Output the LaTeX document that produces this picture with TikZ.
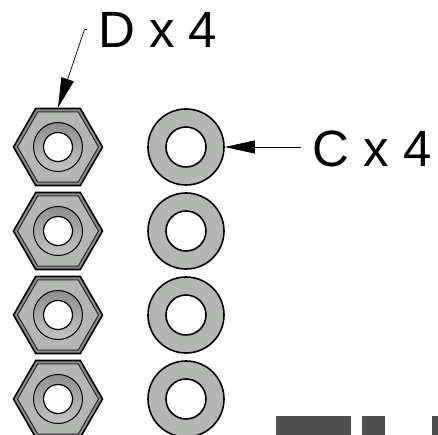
\documentclass[tikz,border=0pt]{standalone}
\usepackage{fontspec}
\setmainfont{Liberation Sans}
\usetikzlibrary{shapes.geometric,arrows.meta}
\tikzset{
  nutouter/.style={regular polygon,regular polygon sides=6,shape border rotate=0,minimum size=89pt,inner sep=0pt,draw=black,line width=1.6pt,fill=bevel},
  nutinner/.style={regular polygon,regular polygon sides=6,shape border rotate=0,minimum size=81pt,inner sep=0pt,draw=black!85,line width=1pt,fill=metal},
  nutring/.style={circle,minimum size=49pt,inner sep=0pt,draw=black,line width=1pt,top color=ringdark,bottom color=ringlight},
  nuthole/.style={circle,minimum size=29pt,inner sep=0pt,draw=black,line width=1.2pt,fill=white},
  washer/.style={circle,minimum size=76pt,inner sep=0pt,draw=black,line width=1.6pt,fill=metal},
  washerhole/.style={circle,minimum size=40pt,inner sep=0pt,draw=black,line width=1.6pt,fill=white},
  label/.style={inner sep=0pt,font=\fontsize{51pt}{51pt}\selectfont,anchor=base west},
  leader/.style={line width=0.7pt,-{Triangle[length=30pt,width=13pt]}},
  bar/.style={fill=bardark,draw=none}
}
\definecolor{metal}{HTML}{B4B6B4}
\definecolor{bevel}{HTML}{8C8E8C}
\definecolor{ringdark}{HTML}{8E8E8E}
\definecolor{ringlight}{HTML}{C2C4C2}
\definecolor{bardark}{HTML}{505050}
\begin{document}
\begin{tikzpicture}[x=1pt,y=-1pt]
\useasboundingbox (0,0) rectangle (438,435);
\clip (0,0) rectangle (438,435);
\foreach \i/\y in {1/147,2/231,3/315,4/399}{
  \node[nutouter] (nut\i) at (58,\y) {};
  \node[nutinner] (nutin\i) at (58,\y) {};
  \node[nutring] (ring\i) at (58,\y) {};
  \node[nuthole] (hole\i) at (58,\y) {};
  \node[washer] (wash\i) at (186,\y) {};
  \node[washerhole] (washin\i) at (186,\y) {};
}
\node[label] (dlabel) at (98,48) {D x 4};
\node[label] (clabel) at (312.5,167) {C x 4};
\coordinate (dfree) at (84.5,29.5);
\coordinate (dtick) at (87,29.5);
\coordinate (cfree) at (301,147);
\draw[line width=0.7pt] (dtick) -- (dfree);
\draw[leader] (dfree) -- (nut1.north);
\draw[leader] (cfree) -- (wash1.east);
\node[bar,minimum width=75pt,minimum height=19pt,inner sep=0pt,anchor=north west] (bara) at (276,416) {};
\node[bar,minimum width=23pt,minimum height=19pt,inner sep=0pt,anchor=north west] (barb) at (362,416) {};
\node[bar,minimum width=6pt,minimum height=19pt,inner sep=0pt,anchor=north west] (barc) at (432,416) {};
\end{tikzpicture}
\end{document}
